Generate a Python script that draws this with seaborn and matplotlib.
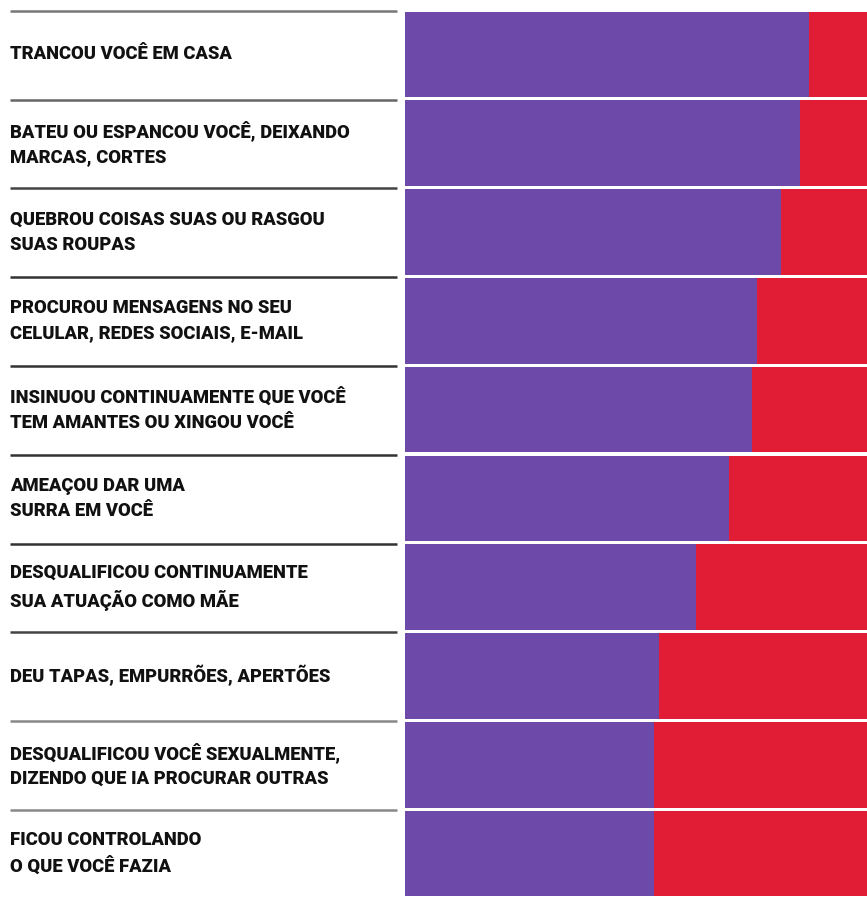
import pandas as pd
import matplotlib.pyplot as plt
import matplotlib.transforms as mtransforms
import seaborn as sns

# Data (share of each row, in %)
labels = [
    'TRANCOU VOCÊ EM CASA',
    'BATEU OU ESPANCOU VOCÊ, DEIXANDO\nMARCAS, CORTES',
    'QUEBROU COISAS SUAS OU RASGOU\nSUAS ROUPAS',
    'PROCUROU MENSAGENS NO SEU\nCELULAR, REDES SOCIAIS, E-MAIL',
    'INSINUOU CONTINUAMENTE QUE VOCÊ\nTEM AMANTES OU XINGOU VOCÊ',
    'AMEAÇOU DAR UMA\nSURRA EM VOCÊ',
    'DESQUALIFICOU CONTINUAMENTE\nSUA ATUAÇÃO COMO MÃE',
    'DEU TAPAS, EMPURRÕES, APERTÕES',
    'DESQUALIFICOU VOCÊ SEXUALMENTE,\nDIZENDO QUE IA PROCURAR OUTRAS',
    'FICOU CONTROLANDO\nO QUE VOCÊ FAZIA',
]
purple_vals = [87.4, 85.5, 81.4, 76.2, 75.1, 70.1, 63.0, 55.0, 53.9, 53.9]
red_vals = [100 - v for v in purple_vals]

df = pd.DataFrame({'label': labels, 'purple': purple_vals, 'red': red_vals})
df['total'] = df['purple'] + df['red']

PURPLE = '#6D4AAA'
RED = '#E11C35'

sns.set_theme(style='white')
plt.rcParams['font.family'] = ['Roboto', 'DejaVu Sans']

fig = plt.figure(figsize=(8.67, 8.98), dpi=100)
ax = fig.add_axes([405 / 867, 0, 462 / 867, 888 / 898])

sns.barplot(data=df, y='label', x='total', color=RED, orient='h',
            width=0.965, saturation=1, ax=ax, linewidth=0)
sns.barplot(data=df, y='label', x='purple', color=PURPLE, orient='h',
            width=0.965, saturation=1, ax=ax, linewidth=0)

ax.set_xlim(0, 100)
ax.set_ylim(len(labels) - 0.5, -0.5)
ax.set_xlabel('')
ax.set_ylabel('')
ax.set_xticks([])
ax.set_yticks([])
for s in ax.spines.values():
    s.set_visible(False)

# labels and separators on the left, x in figure coords, y in data coords
trans = mtransforms.blended_transform_factory(fig.transFigure, ax.transData)
line_colors = ['#777777', '#666666', '#444444', '#333333', '#333333',
               '#333333', '#333333', '#444444', '#888888', '#888888']
for i, lab in enumerate(labels):
    ax.text(10 / 867, i, lab, transform=trans, ha='left', va='center',
            fontsize=13.2, fontweight='black', color='#111111',
            linespacing=1.5, clip_on=False)
    ax.plot([10 / 867, 397 / 867], [i - 0.49, i - 0.49], transform=trans,
            color=line_colors[i], lw=1.8, clip_on=False, solid_capstyle='butt')

fig.savefig('out.png', dpi=100)
